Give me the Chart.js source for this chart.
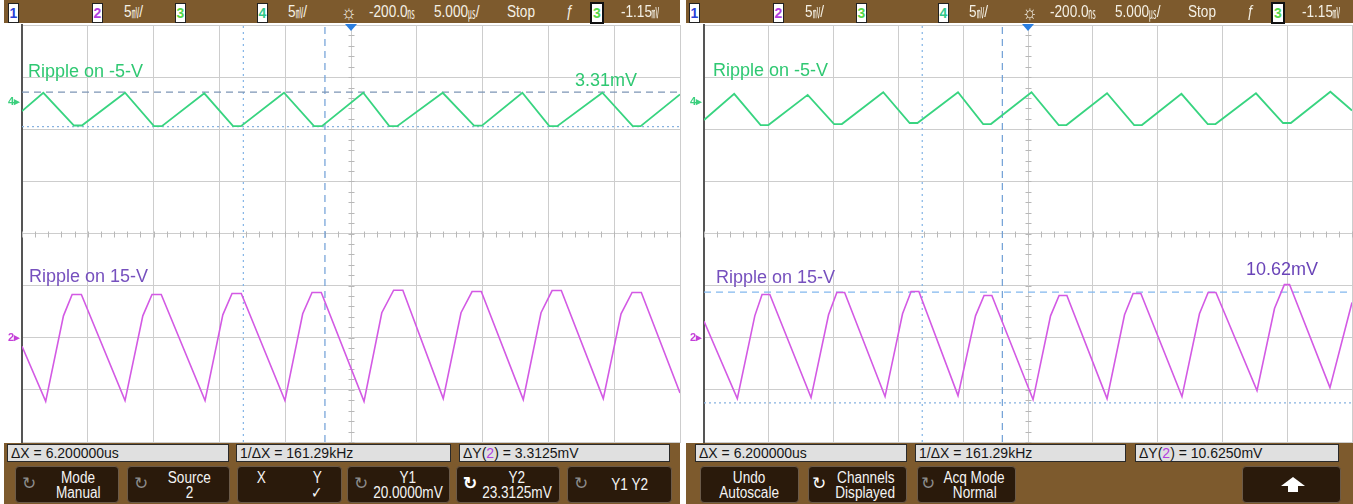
<!DOCTYPE html>
<html>
<head>
<meta charset="utf-8">
<script src="https://cdn.jsdelivr.net/npm/chart.js@4.4.1/dist/chart.umd.min.js"></script>
<style>
body { margin:0; width:1353px; height:504px; background:#fff; position:relative; overflow:hidden; font-family:"Liberation Sans", Arial, sans-serif; }
.bar { position:absolute; background:#7d5a2d; }
.tb { position:absolute; top:2px; height:20px; line-height:20px; color:#f5f1e6; font-size:16px; white-space:nowrap; }
.tb .n { display:inline-block; transform:scaleX(.85); transform-origin:left center; }
.u { display:inline-block; font-family:"Noto Sans CJK JP","Noto Sans CJK SC",sans-serif; font-size:15px; width:9px; transform:scaleX(.6); transform-origin:left center; vertical-align:top; }
.chbox { position:absolute; top:3px; width:9px; height:18px; background:#fff; border:1px solid #222; font-size:14px; line-height:18px; text-align:center; font-weight:bold; }
.meas { position:absolute; top:444px; height:18px; background:#e0e0e0; border:1px solid #2a2a2a; font-size:14px; line-height:17px; color:#151515; padding-left:3px; box-sizing:border-box; white-space:nowrap; }
.key { position:absolute; top:466px; height:37px; background:#2a1a0b; border:1px solid #6b5a48; border-radius:4px; box-sizing:border-box; color:#f4f4f4; font-size:16px; }
.key .l { position:absolute; left:0; right:0; text-align:center; line-height:15px; white-space:nowrap; }
.key .l span { display:inline-block; transform:scaleX(.85); }
.key .ic { position:absolute; left:6px; top:8px; font-size:17px; color:#8c8c8c; line-height:18px; }
.lbl { position:absolute; font-size:18px; line-height:18px; white-space:nowrap; z-index:3; }
.mk { position:absolute; font-size:11px; font-weight:bold; line-height:12px; z-index:3; }
canvas.scope { position:absolute; top:23px; z-index:1; }
</style>
</head>
<body>

<div class="bar" style="left:4px;top:0;width:676px;height:23px"></div>
<div class="bar" style="left:686px;top:0;width:667px;height:23px"></div>
<div class="bar" style="left:4px;top:443px;width:676px;height:61px"></div>
<div class="bar" style="left:686px;top:443px;width:667px;height:61px"></div>
<div id="topbars"></div>

<canvas id="scopeLeft" class="scope" width="664" height="423" style="left:20px"></canvas>
<canvas id="scopeRight" class="scope" width="654" height="423" style="left:702px"></canvas>

<!-- labels on the screens -->
<div class="lbl" style="left:28px;top:62px;color:#2fc872">Ripple on -5-V</div>
<div class="lbl" style="left:575px;top:71px;color:#2fc872">3.31mV</div>
<div class="lbl" style="left:29px;top:267px;color:#7650be">Ripple on 15-V</div>
<div class="lbl" style="left:713px;top:61px;color:#2fc872">Ripple on -5-V</div>
<div class="lbl" style="left:716px;top:268px;color:#7650be">Ripple on 15-V</div>
<div class="lbl" style="left:1246px;top:260px;color:#6a44b8">10.62mV</div>

<div class="mk" style="left:8px;top:95px;color:#3ccf7e">4&#9656;</div>
<div class="mk" style="left:8px;top:331px;color:#c43fd8">2&#9656;</div>
<div class="mk" style="left:690px;top:95px;color:#3ccf7e">4&#9656;</div>
<div class="mk" style="left:690px;top:331px;color:#c43fd8">2&#9656;</div>

<!-- measurement line -->
<div class="meas" style="left:7px;width:222px">&Delta;X = 6.200000us</div>
<div class="meas" style="left:236px;width:215px">1/&Delta;X = 161.29kHz</div>
<div class="meas" style="left:459px;width:211px">&Delta;Y(<span style="color:#b23ee0">2</span>) = 3.3125mV</div>
<div class="meas" style="left:695px;width:212px">&Delta;X = 6.200000us</div>
<div class="meas" style="left:915px;width:211px">1/&Delta;X = 161.29kHz</div>
<div class="meas" style="left:1135px;width:204px">&Delta;Y(<span style="color:#b23ee0">2</span>) = 10.6250mV</div>

<!-- softkeys, left screen -->
<div class="key" style="left:15px;width:104px"><div class="ic">&#8635;</div><div class="l" style="top:3px;padding-left:22px"><span>Mode</span></div><div class="l" style="top:18px;padding-left:22px"><span>Manual</span></div></div>
<div class="key" style="left:127px;width:103px"><div class="ic">&#8635;</div><div class="l" style="top:3px;padding-left:22px"><span>Source</span></div><div class="l" style="top:18px;padding-left:22px"><span>2</span></div></div>
<div class="key" style="left:237px;width:105px"><div class="l" style="top:3px;left:18px;right:auto"><span>X</span></div><div class="l" style="top:3px;left:74px;right:auto"><span>Y</span></div><div class="l" style="top:18px;left:72px;right:auto"><span>&#10003;</span></div></div>
<div class="key" style="left:347px;width:103px"><div class="ic">&#8635;</div><div class="l" style="top:3px;padding-left:18px"><span>Y1</span></div><div class="l" style="top:18px;padding-left:18px"><span>20.0000mV</span></div></div>
<div class="key" style="left:456px;width:104px"><div class="ic" style="color:#fff;font-weight:bold">&#8635;</div><div class="l" style="top:3px;padding-left:18px"><span>Y2</span></div><div class="l" style="top:18px;padding-left:18px"><span>23.3125mV</span></div></div>
<div class="key" style="left:567px;width:105px"><div class="ic">&#8635;</div><div class="l" style="top:10px;padding-left:20px"><span>Y1 Y2</span></div></div>

<!-- softkeys, right screen -->
<div class="key" style="left:700px;width:99px"><div class="l" style="top:3px"><span>Undo</span></div><div class="l" style="top:18px"><span>Autoscale</span></div></div>
<div class="key" style="left:808px;width:99px"><div class="ic" style="color:#fff;left:3px">&#8635;</div><div class="l" style="top:3px;padding-left:16px"><span>Channels</span></div><div class="l" style="top:18px;padding-left:16px"><span>Displayed</span></div></div>
<div class="key" style="left:917px;width:99px"><div class="ic" style="left:3px">&#8635;</div><div class="l" style="top:3px;padding-left:16px"><span>Acq Mode</span></div><div class="l" style="top:18px;padding-left:16px"><span>Normal</span></div></div>
<div class="key" style="left:1242px;width:99px">
  <div style="position:absolute;left:38px;top:10px;width:0;height:0;border-left:12px solid transparent;border-right:12px solid transparent;border-bottom:9px solid #fff"></div>
  <div style="position:absolute;left:45px;top:19px;width:10px;height:6px;background:#fff"></div>
</div>

<script>
// scope screen: 10 x 5us divisions, 8 x 5mV divisions
const X_MIN = -25, X_MAX = 25, X_DIV = 5;
const Y_MIN = -20, Y_MAX = 20, Y_DIV = 5;
const trigTimeUs = 0;

// left capture: ripple on -5 V (channel 4), time in us, level in mV on screen
const leftGreenT = [-25.0, -23.38, -21.05, -20.45, -17.17, -14.97, -14.37, -11.15, -8.96, -8.36, -5.09, -2.81, -2.21, 0.93, 2.91, 3.51, 6.97, 9.35, 9.95, 13.02, 15.07, 15.67, 19.10, 21.41, 22.01, 25.0];
const leftGreenV = [11.74, 13.5, 10.36, 10.36, 13.5, 10.3, 10.3, 13.45, 10.3, 10.3, 13.5, 10.3, 10.3, 13.5, 10.3, 10.3, 13.5, 10.35, 10.35, 13.5, 10.3, 10.3, 13.5, 10.3, 10.3, 13.34];

// left capture: ripple on 15 V (channel 2)
const leftPurpleT = [-25.0,
  -23.20, -21.85, -21.19, -20.49,
  -17.17, -15.82, -15.12, -14.42,
  -11.09, -9.74, -9.04, -8.34,
  -5.02, -3.67, -2.96, -2.26,
  0.99, 2.34, 3.24, 3.94,
  7.01, 8.36, 9.20, 9.90,
  13.09, 14.44, 15.28, 15.98,
  19.17, 20.52, 21.36, 22.06,
  25.0];
const leftPurpleV = [-10.82,
  -16.10, -7.9, -5.85, -5.85,
  -16.03, -7.9, -5.85, -5.85,
  -16.03, -7.8, -5.76, -5.76,
  -16.03, -7.7, -5.66, -5.66,
  -16.10, -7.6, -5.44, -5.44,
  -15.84, -7.6, -5.57, -5.57,
  -15.93, -7.6, -5.47, -5.47,
  -15.84, -7.7, -5.66, -5.66,
  -15.29];

// right capture: ripple on -5 V
const rightGreenT = [-25.0, -22.67, -20.63, -20.03, -17.00, -14.96, -14.36, -11.17, -9.13, -8.53, -5.40, -3.46, -2.86, 0.27, 2.37, 2.97, 6.10, 8.19, 8.79, 11.84, 13.87, 14.47, 17.59, 19.68, 20.28, 23.33, 25.0];
const rightGreenV = [10.89, 13.4, 10.4, 10.4, 13.3, 10.5, 10.5, 13.55, 10.6, 10.6, 13.55, 10.5, 10.5, 13.55, 10.4, 10.4, 13.45, 10.4, 10.4, 13.4, 10.5, 10.5, 13.45, 10.6, 10.6, 13.6, 11.8];

// right capture: ripple on 15 V
const rightPurpleT = [-25.0,
  -22.43, -21.08, -20.52, -19.92,
  -16.74, -15.39, -14.75, -14.15,
  -11.03, -9.68, -9.02, -8.42,
  -5.40, -4.05, -3.39, -2.79,
  0.39, 1.74, 2.40, 3.00,
  6.10, 7.45, 8.11, 8.71,
  11.88, 13.23, 13.90, 14.50,
  17.67, 19.02, 19.78, 20.18,
  23.30, 25.0];
const rightPurpleV = [-8.42,
  -15.84, -7.9, -5.85, -5.85,
  -15.74, -7.8, -5.66, -5.66,
  -15.64, -7.7, -5.57, -5.57,
  -15.55, -7.9, -5.95, -5.95,
  -15.93, -7.9, -5.95, -5.95,
  -15.84, -7.8, -5.76, -5.76,
  -15.64, -7.7, -5.66, -5.66,
  -15.07, -7.2, -4.90, -4.90,
  -14.78, -6.62];

// cursors (X1, X2 in us; Y2, Y1 in mV on screen)
const leftCursorX = [-8.18, -1.98];
const leftCursorY = [13.57, 10.26];
const rightCursorX = [-8.16, -1.98];
const rightCursorY = [-5.63, -16.25];

// top status bar, drawn once per screen
const topItems = [
    { box: '1', x: 8, color: '#2b3fd6' },
    { box: '2', x: 92, color: '#b23ee0' },
    { text: '5', unit: '\u33B7', tail: '/', x: 124 },
    { box: '3', x: 175, color: '#55d84a' },
    { box: '4', x: 257, color: '#2fc88a' },
    { text: '5', unit: '\u33B7', tail: '/', x: 288 },
    { text: '\u263C', x: 341, big: true },
    { text: '-200.0', unit: '\u33B1', tail: '', x: 369 },
    { text: '5.000', unit: '\u33B2', tail: '/', x: 434 },
    { text: 'Stop', x: 507 },
    { text: '\u0192', x: 566 },
    { box: '3', x: 590, color: '#55d84a', strong: true },
    { text: '-1.15', unit: '\u33B7', tail: '', x: 621 }
];

function buildTopBar(x0) {
    let holder = document.getElementById("topbars");
    topItems.forEach(item => {
        let el = document.createElement("div");
        if (item.box) {
            el.className = "chbox";
            el.textContent = item.box;
            el.style.color = item.color;
            if (item.strong) { el.style.border = "2px solid #111"; el.style.width = "10px"; el.style.top = "2px"; }
        } else {
            el.className = "tb";
            let s = document.createElement("span");
            s.className = "n";
            s.textContent = item.text;
            if (item.unit) {
                let u = document.createElement("span");
                u.className = "u";
                u.textContent = item.unit;
                s.appendChild(u);
                s.appendChild(document.createTextNode(item.tail));
            }
            if (item.big) { el.style.fontSize = "20px"; }
            el.appendChild(s);
        }
        el.style.left = (x0 + item.x) + "px";
        el.style.zIndex = 2;
        holder.appendChild(el);
    });
}
buildTopBar(0);
buildTopBar(681);

function pts(ts, vs) {
    return ts.map((t, i) => ({ x: t, y: vs[i] }));
}
function hLine(v) {
    return [{ x: X_MIN, y: v }, { x: X_MAX, y: v }];
}
function vLine(t) {
    return [{ x: t, y: Y_MIN }, { x: t, y: Y_MAX }];
}

// center axis tick marks and trigger marker
const scopeDeco = {
    id: 'scopeDeco',
    beforeDatasetsDraw(chart) {
        const { ctx, scales: { x, y } } = chart;
        const cx = Math.round(x.getPixelForValue(0)) + 0.5;
        const cy = Math.round(y.getPixelForValue(0)) + 0.5;
        ctx.save();
        ctx.strokeStyle = '#b8b8b8';
        ctx.lineWidth = 1;
        ctx.beginPath();
        for (let t = X_MIN; t <= X_MAX; t += X_DIV / 5) {
            let px = Math.round(x.getPixelForValue(t)) + 0.5;
            ctx.moveTo(px, cy - 3); ctx.lineTo(px, cy + 3);
        }
        for (let v = Y_MIN; v <= Y_MAX; v += Y_DIV / 5) {
            let py = Math.round(y.getPixelForValue(v)) + 0.5;
            ctx.moveTo(cx - 3, py); ctx.lineTo(cx + 3, py);
        }
        ctx.stroke();
        ctx.restore();
    },
    afterDraw(chart) {
        const { ctx, chartArea, scales: { x } } = chart;
        const px = x.getPixelForValue(trigTimeUs);
        ctx.save();
        ctx.fillStyle = '#2a7ee0';
        ctx.beginPath();
        ctx.moveTo(px - 6, chartArea.top - 1);
        ctx.lineTo(px + 6, chartArea.top - 1);
        ctx.lineTo(px, chartArea.top + 6);
        ctx.closePath();
        ctx.fill();
        ctx.restore();
    }
};

function createScope(canvasId, greenT, greenV, purpleT, purpleV, curX, curY, hDashColor) {
    new Chart(document.getElementById(canvasId), {
        type: 'line',
        data: {
            datasets: [
                { data: pts(purpleT, purpleV), borderColor: '#d35ae4', borderWidth: 1.6 },
                { data: pts(greenT, greenV), borderColor: '#38d480', borderWidth: 1.8 },
                { data: hLine(curY[0]), borderColor: hDashColor, borderWidth: 1.2, borderDash: [7, 5] },
                { data: hLine(curY[1]), borderColor: '#88b2e0', borderWidth: 1.2, borderDash: [2, 3] },
                { data: vLine(curX[0]), borderColor: '#82b4e6', borderWidth: 1.2, borderDash: [2, 4] },
                { data: vLine(curX[1]), borderColor: '#6f9fd6', borderWidth: 1.2, borderDash: [7, 5] }
            ]
        },
        options: {
            responsive: false,
            animation: false,
            devicePixelRatio: 1,
            parsing: false,
            layout: { padding: { left: 2, top: 2, right: 4, bottom: 4 } },
            plugins: { legend: { display: false }, tooltip: { enabled: false } },
            elements: { point: { radius: 0 }, line: { tension: 0, fill: false } },
            scales: {
                x: {
                    type: 'linear', min: X_MIN, max: X_MAX,
                    ticks: { display: false, stepSize: X_DIV },
                    grid: { color: '#cdcdcd', drawTicks: false },
                    border: { color: '#cdcdcd' }
                },
                y: {
                    type: 'linear', min: Y_MIN, max: Y_MAX,
                    ticks: { display: false, stepSize: Y_DIV },
                    grid: { color: '#cdcdcd', drawTicks: false },
                    border: { color: '#555', width: 2 }
                }
            }
        },
        plugins: [scopeDeco]
    });
}

createScope("scopeLeft", leftGreenT, leftGreenV, leftPurpleT, leftPurpleV, leftCursorX, leftCursorY, '#7d95b5');
createScope("scopeRight", rightGreenT, rightGreenV, rightPurpleT, rightPurpleV, rightCursorX, rightCursorY, '#82b8ee');
</script>
</body>
</html>
